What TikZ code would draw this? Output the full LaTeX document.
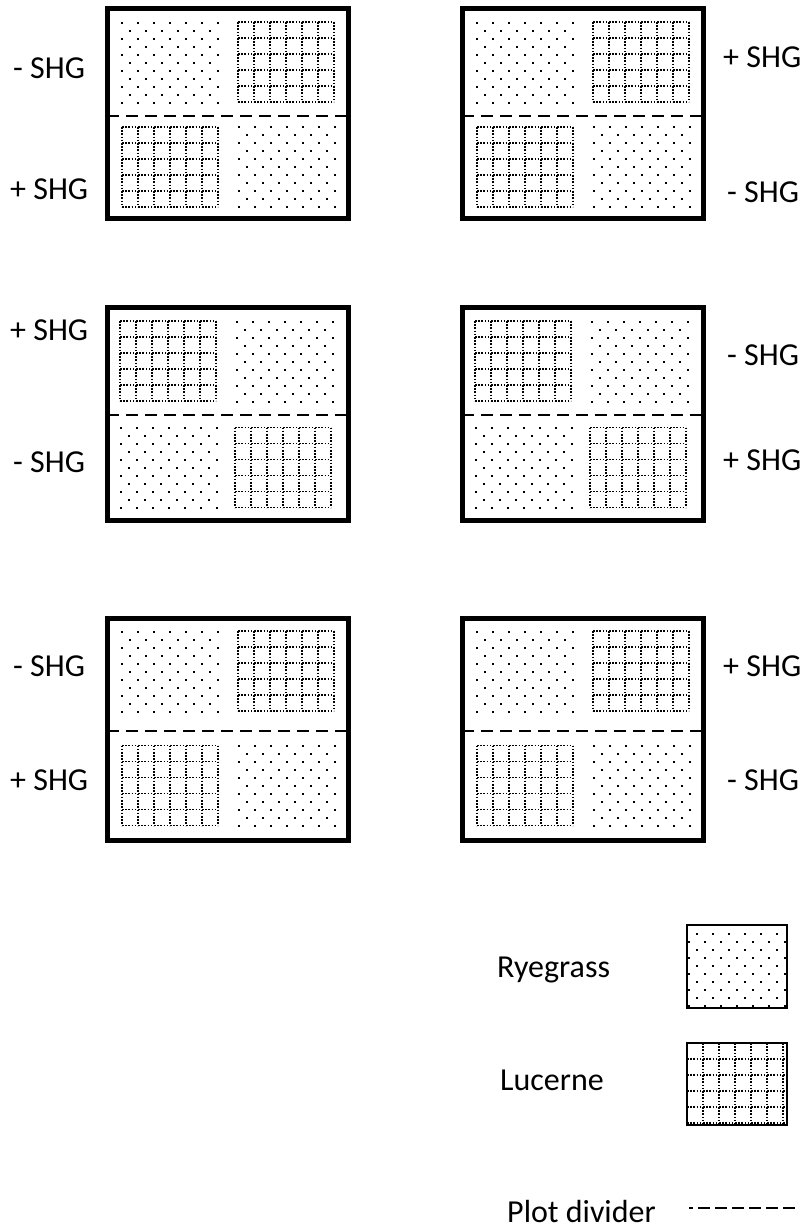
\documentclass[tikz,border=0pt]{standalone}
\usepackage{fontspec}
\setmainfont{Carlito}
\newcommand\dotat[2]{\fill (#1-1,#2-1) rectangle (#1+1,#2+1);}
\newcommand\ryedots[2]{%
 \foreach \k in {0,2,...,10}{\foreach \j in {0,...,6}{\dotat{#1+16*\j}{#2+8*\k}}}%
 \foreach \k in {1,3,...,9}{\foreach \j in {0,...,5}{\dotat{#1+8+16*\j}{#2+8*\k}}}}
\newcommand\lucgrid[2]{%
 \foreach \i in {0,...,6}{\draw[gridline] (#1+16*\i,#2) -- (#1+16*\i,#2+80);}%
 \foreach \i in {0,...,5}{\draw[gridline] (#1,#2+16*\i) -- (#1+96,#2+16*\i);}}
% type A: UL rye, UR lucerne, LL lucerne, LR rye
\newcommand\plotA[4]{%
 \pgfmathsetmacro\lowtop{(#3+#4)/2-40}%
 \ryedots{#1+15}{#2+14}
 \lucgrid{#1+131}{#2+13}
 \lucgrid{#1+15}{\lowtop}
 \ryedots{#1+132}{\lowtop}
 \draw[divline] (#1,#3) -- (#1+241,#3);
 \draw[frame] (#1,#2) rectangle (#1+241,#4);}
% type B: UL lucerne, UR rye, LL rye, LR lucerne
\newcommand\plotB[4]{%
 \pgfmathsetmacro\lowtop{(#3+#4)/2-40}%
 \lucgrid{#1+13}{#2+14}
 \ryedots{#1+130}{#2+15}
 \ryedots{#1+14}{\lowtop}
 \lucgrid{#1+128}{\lowtop}
 \draw[divline] (#1,#3) -- (#1+241,#3);
 \draw[frame] (#1,#2) rectangle (#1+241,#4);}
\begin{document}
\begin{tikzpicture}[x=1pt,y=-1pt,
  frame/.style={line width=5pt},
  divline/.style={line width=2.2pt, dash pattern=on 12pt off 7pt},
  gridline/.style={line width=1.4pt, dash pattern=on 1.6pt off 1.6pt},
  lbl/.style={font=\fontsize{32}{38}\selectfont, inner sep=0pt, anchor=base west},
  legbox/.style={line width=1.8pt}]
\useasboundingbox[fill=white] (0,0) rectangle (805,1228);
% plots
\plotA{107}{9}{116}{218}
\plotA{462}{9}{116}{218}
\plotB{107}{307}{415}{520}
\plotB{462}{307}{415}{520}
\plotA{107}{618}{731}{840}
\plotA{462}{618}{731}{840}
% labels
\node[lbl] (l1a) at (13,79) {- SHG};
\node[lbl] (l1b) at (10,199) {+ SHG};
\node[lbl] (r1a) at (723,68) {+ SHG};
\node[lbl] (r1b) at (727,202) {- SHG};
\node[lbl] (l2a) at (10,340) {+ SHG};
\node[lbl] (l2b) at (13,472) {- SHG};
\node[lbl] (r2a) at (727,365) {- SHG};
\node[lbl] (r2b) at (723,470) {+ SHG};
\node[lbl] (l3a) at (13,676) {- SHG};
\node[lbl] (l3b) at (10,790) {+ SHG};
\node[lbl] (r3a) at (723,676) {+ SHG};
\node[lbl] (r3b) at (727,790) {- SHG};
% legend: ryegrass
\node[lbl] (rye) at (497,977) {Ryegrass};
\begin{scope}
 \clip (687,925) rectangle (787,1008);
 \foreach \k in {0,2,...,10}{\foreach \j in {0,...,5}{\dotat{697+16*\j}{934+8*\k}}}
 \foreach \k in {1,3,...,9}{\foreach \j in {0,...,6}{\dotat{689+16*\j}{934+8*\k}}}
\end{scope}
\draw[legbox] (687,925) rectangle (787,1008);
% legend: lucerne
\node[lbl] (luc) at (500,1090) {Lucerne};
\foreach \i in {0,...,5}{\draw[gridline] (703+16*\i,1043) -- (703+16*\i,1125);}
\foreach \i in {0,...,4}{\draw[gridline] (687,1059+16*\i) -- (787,1059+16*\i);}
\draw[legbox] (687,1043) rectangle (787,1125);
% legend: plot divider
\node[lbl] (pd) at (507,1222) {Plot divider};
\coordinate (pda) at (689,1208);
\coordinate (pdb) at (795,1208);
\draw[line width=1.2pt, dash pattern=on 12pt off 5pt, dash phase=8pt] (pda) -- (pdb);
\end{tikzpicture}
\end{document}
